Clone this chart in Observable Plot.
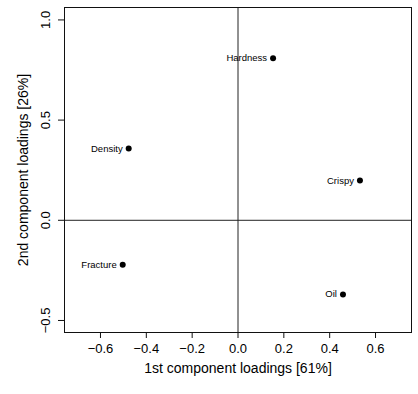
<!DOCTYPE html>
<html>
<head>
<meta charset="utf-8">
<script src="https://cdn.jsdelivr.net/npm/d3@7"></script>
<script src="https://cdn.jsdelivr.net/npm/@observablehq/plot@0.6"></script>
<style>
  html, body { margin: 0; padding: 0; background: #fff; }
</style>
</head>
<body>
<div id="chart"></div>
<script>
const variables = ["Oil", "Density", "Crispy", "Fracture", "Hardness"];
const pc1 = [0.458, -0.477, 0.532, -0.503, 0.153];
const pc2 = [-0.37, 0.358, 0.198, -0.222, 0.809];
const xTicks = [-0.6, -0.4, -0.2, 0.0, 0.2, 0.4, 0.6];
const yTicks = [-0.5, 0.0, 0.5, 1.0];
const xTitle = "1st component loadings [61%]";
const yTitle = "2nd component loadings [26%]";

const data = variables.map((v, i) => ({name: v, x: pc1[i], y: pc2[i]}));
const fmt = d => d.toFixed(1).replace("-", "\u2212");
const font = "Liberation Sans, Arial, Helvetica, sans-serif";

const chart = Plot.plot({
  width: 418,
  height: 394,
  marginLeft: 64,
  marginRight: 7,
  marginTop: 7,
  marginBottom: 62,
  style: {fontFamily: font, background: "#fff", color: "#000"},
  x: {domain: [-0.757, 0.757], axis: null},
  y: {domain: [-0.56, 1.062], axis: null},
  marks: [
    Plot.ruleX([0], {stroke: "#222", strokeWidth: 1}),
    Plot.ruleY([0], {stroke: "#222", strokeWidth: 1}),
    Plot.frame({stroke: "#111", strokeWidth: 1}),
    Plot.axisX(xTicks, {anchor: "bottom", tickSize: 6, tickPadding: 5, tickFormat: fmt, fontSize: 13, stroke: "#111", label: null}),
    Plot.axisY(yTicks, {anchor: "left", tickSize: 6, tickFormat: () => "", stroke: "#111", label: null}),
    Plot.text(yTicks, {y: d => d, text: fmt, frameAnchor: "left", dx: -19, rotate: -90, fontSize: 13, textAnchor: "middle", fill: "#000"}),
    Plot.text([xTitle], {text: d => d, frameAnchor: "bottom", dy: 40, fontSize: 14, textAnchor: "middle", fill: "#000"}),
    Plot.text([yTitle], {text: d => d, frameAnchor: "left", dx: -41, rotate: -90, fontSize: 14, textAnchor: "middle", fill: "#000"}),
    Plot.dot(data, {x: "x", y: "y", r: 3, fill: "#000", stroke: "none"}),
    Plot.text(data, {x: "x", y: "y", text: "name", textAnchor: "end", dx: -6, fontSize: 9.5, fill: "#000"})
  ]
});
document.getElementById("chart").appendChild(chart);
</script>
</body>
</html>
